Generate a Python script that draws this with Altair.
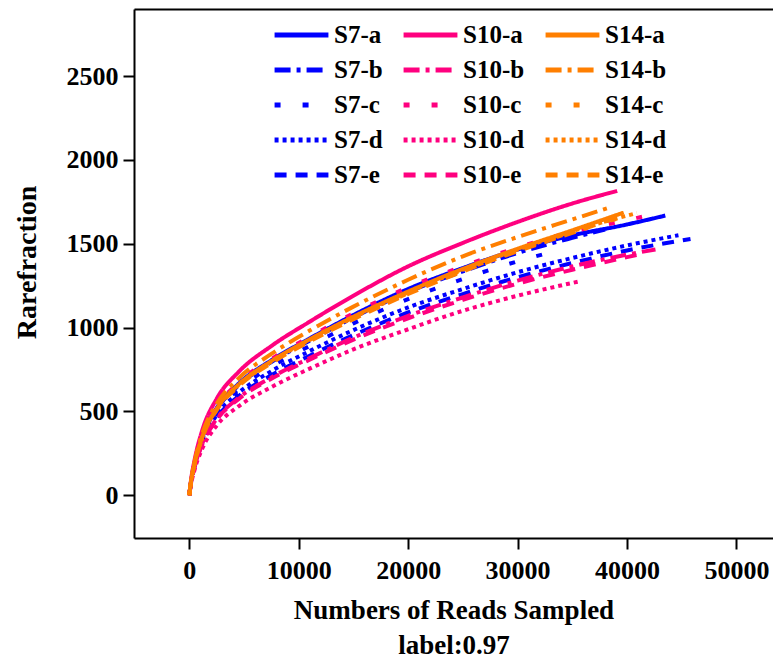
import altair as alt
import pandas as pd

# ---- data ----
# legend is filled column by column: S7 column, S10 column, S14 column
series_order = ["S7-a", "S7-b", "S7-c", "S7-d", "S7-e",
                "S10-a", "S10-b", "S10-c", "S10-d", "S10-e",
                "S14-a", "S14-b", "S14-c", "S14-d", "S14-e"]

grid = [0, 150, 500, 1200, 2500, 4500, 7500, 11000, 15000, 20000, 25000, 30000, 35000, 40000]

S7_a = [0, 77, 195, 353, 520, 665, 805, 935, 1075, 1230, 1355, 1465, 1550, 1615]
S7_a_end = (43500, 1668)
S7_b = [0, 76, 192, 348, 512, 655, 795, 922, 1060, 1212, 1335, 1445, 1535]
S7_b_end = (38000, 1585)
S7_c = [0, 74, 186, 337, 495, 633, 767, 890, 1025, 1170, 1290, 1395]
S7_c_end = (32500, 1440)
S7_d = [0, 72, 180, 325, 478, 610, 740, 860, 985, 1120, 1230, 1330, 1415, 1490]
S7_d_end = (44700, 1551)
S7_e = [0, 70, 175, 315, 463, 590, 715, 832, 955, 1090, 1200, 1300, 1385, 1460]
S7_e_end = (45800, 1528)

S10_a = [0, 85, 215, 390, 575, 735, 890, 1035, 1190, 1365, 1505, 1630, 1740]
S10_a_end = (39100, 1815)
S10_b = [0, 68, 172, 310, 455, 580, 703, 818, 940, 1070, 1180, 1280, 1365, 1435]
S10_b_end = (42600, 1466)
S10_c = [0, 78, 197, 357, 525, 672, 812, 945, 1085, 1240, 1365, 1478, 1572, 1640]
S10_c_end = (43200, 1691)
S10_d = [0, 62, 155, 280, 415, 530, 645, 755, 870, 990, 1100, 1190]
S10_d_end = (35600, 1275)
S10_e = [0, 67, 170, 305, 450, 573, 695, 808, 928, 1055, 1165, 1262, 1345, 1420]
S10_e_end = (41500, 1442)

S14_a = [0, 77, 193, 350, 515, 660, 800, 930, 1065, 1215, 1350, 1470, 1580]
S14_a_end = (39700, 1686)
S14_b = [0, 81, 204, 370, 545, 697, 843, 982, 1125, 1285, 1425, 1540, 1645]
S14_b_end = (38500, 1718)
S14_c = [0, 76, 191, 347, 512, 655, 793, 922, 1055, 1205, 1340, 1460, 1570]
S14_c_end = (40300, 1672)
S14_d = [0, 77, 192, 348, 514, 658, 797, 926, 1060, 1210, 1345, 1465, 1575]
S14_d_end = (40900, 1683)
S14_e = [0, 75, 189, 344, 508, 650, 788, 917, 1050, 1200, 1335, 1455, 1565]
S14_e_end = (39200, 1660)

series_data = {
    "S7-a": (S7_a, S7_a_end), "S7-b": (S7_b, S7_b_end), "S7-c": (S7_c, S7_c_end),
    "S7-d": (S7_d, S7_d_end), "S7-e": (S7_e, S7_e_end),
    "S10-a": (S10_a, S10_a_end), "S10-b": (S10_b, S10_b_end), "S10-c": (S10_c, S10_c_end),
    "S10-d": (S10_d, S10_d_end), "S10-e": (S10_e, S10_e_end),
    "S14-a": (S14_a, S14_a_end), "S14-b": (S14_b, S14_b_end), "S14-c": (S14_c, S14_c_end),
    "S14-d": (S14_d, S14_d_end), "S14-e": (S14_e, S14_e_end),
}

x_ticks = [0, 10000, 20000, 30000, 40000, 50000]
y_ticks = [0, 500, 1000, 1500, 2000, 2500]

# ---- styling ----
blue, pink, orange = "#0000FF", "#FF007F", "#FF7F00"
group_color = {"S7": blue, "S10": pink, "S14": orange}
dash_by_letter = {"a": [1, 0], "b": [16, 6, 4, 6], "c": [6, 22],
                  "d": [4, 4], "e": [12, 9]}

rows = []
for name in series_order:
    vals, end = series_data[name]
    for xv, yv in zip(grid, vals):
        rows.append({"series": name, "reads": xv, "value": yv})
    rows.append({"series": name, "reads": end[0], "value": end[1]})
df = pd.DataFrame(rows)

colors = [group_color[s.split("-")[0]] for s in series_order]
dashes = [dash_by_letter[s.split("-")[1]] for s in series_order]

FONT = "Liberation Serif"

xscale = alt.Scale(domain=[-5050, 53340], nice=False, zero=False)
yscale = alt.Scale(domain=[-255, 2900], nice=False, zero=False)

legend = alt.Legend(
    title=None, orient="none", legendX=138, legendY=13, columns=3,
    symbolType="stroke", symbolSize=2900, symbolStrokeWidth=5,
    labelFont=FONT, labelFontWeight="bold", labelFontSize=25, labelColor="black",
    columnPadding=18, rowPadding=9, labelOffset=3, clipHeight=26,
)

y_axis = alt.Axis(values=y_ticks, format="d", grid=False,
                  domainColor="black", domainWidth=2,
                  tickColor="black", tickWidth=2, tickSize=11,
                  labelFont=FONT, labelFontSize=26, labelFontWeight="bold",
                  labelColor="black", labelPadding=5,
                  title="Rarefraction", titleFont=FONT, titleFontSize=28,
                  titleFontWeight="bold", titleColor="black", titlePadding=25,
                  titleY=253)

lines = alt.Chart(df).mark_line(strokeWidth=4, interpolate="monotone").encode(
    x=alt.X("reads:Q", scale=xscale,
            axis=alt.Axis(values=x_ticks, format="d", grid=False,
                          domainColor="black", domainWidth=2,
                          tickColor="black", tickWidth=2, tickSize=11,
                          labelFont=FONT, labelFontSize=26, labelFontWeight="bold",
                          labelColor="black", labelPadding=8,
                          title=["Numbers of Reads Sampled", "label:0.97"],
                          titleFont=FONT, titleFontSize=27, titleFontWeight="bold",
                          titleColor="black", titlePadding=14, titleLineHeight=35)),
    y=alt.Y("value:Q", scale=yscale, axis=y_axis),
    color=alt.Color("series:N", scale=alt.Scale(domain=series_order, range=colors),
                    legend=legend),
    strokeDash=alt.StrokeDash("series:N", scale=alt.Scale(domain=series_order, range=dashes),
                              legend=legend),
)

top = alt.Chart(df).mark_line(opacity=0).encode(
    x=alt.X("reads:Q", scale=xscale,
            axis=alt.Axis(orient="top", labels=False, ticks=False, grid=False,
                          domain=True, domainColor="black", domainWidth=2, title=None)),
    y=alt.Y("value:Q", scale=yscale, axis=y_axis),
    detail="series:N",
)

chart = alt.layer(lines, top).resolve_axis(x="independent").properties(
    width=639, height=529,
    autosize=alt.AutoSizeParams(type="none"),
    padding={"left": 126, "top": 1, "right": 0, "bottom": 120},
).configure_view(stroke=None)

chart.save("out.html", embed_options={"renderer": "svg", "actions": False})
